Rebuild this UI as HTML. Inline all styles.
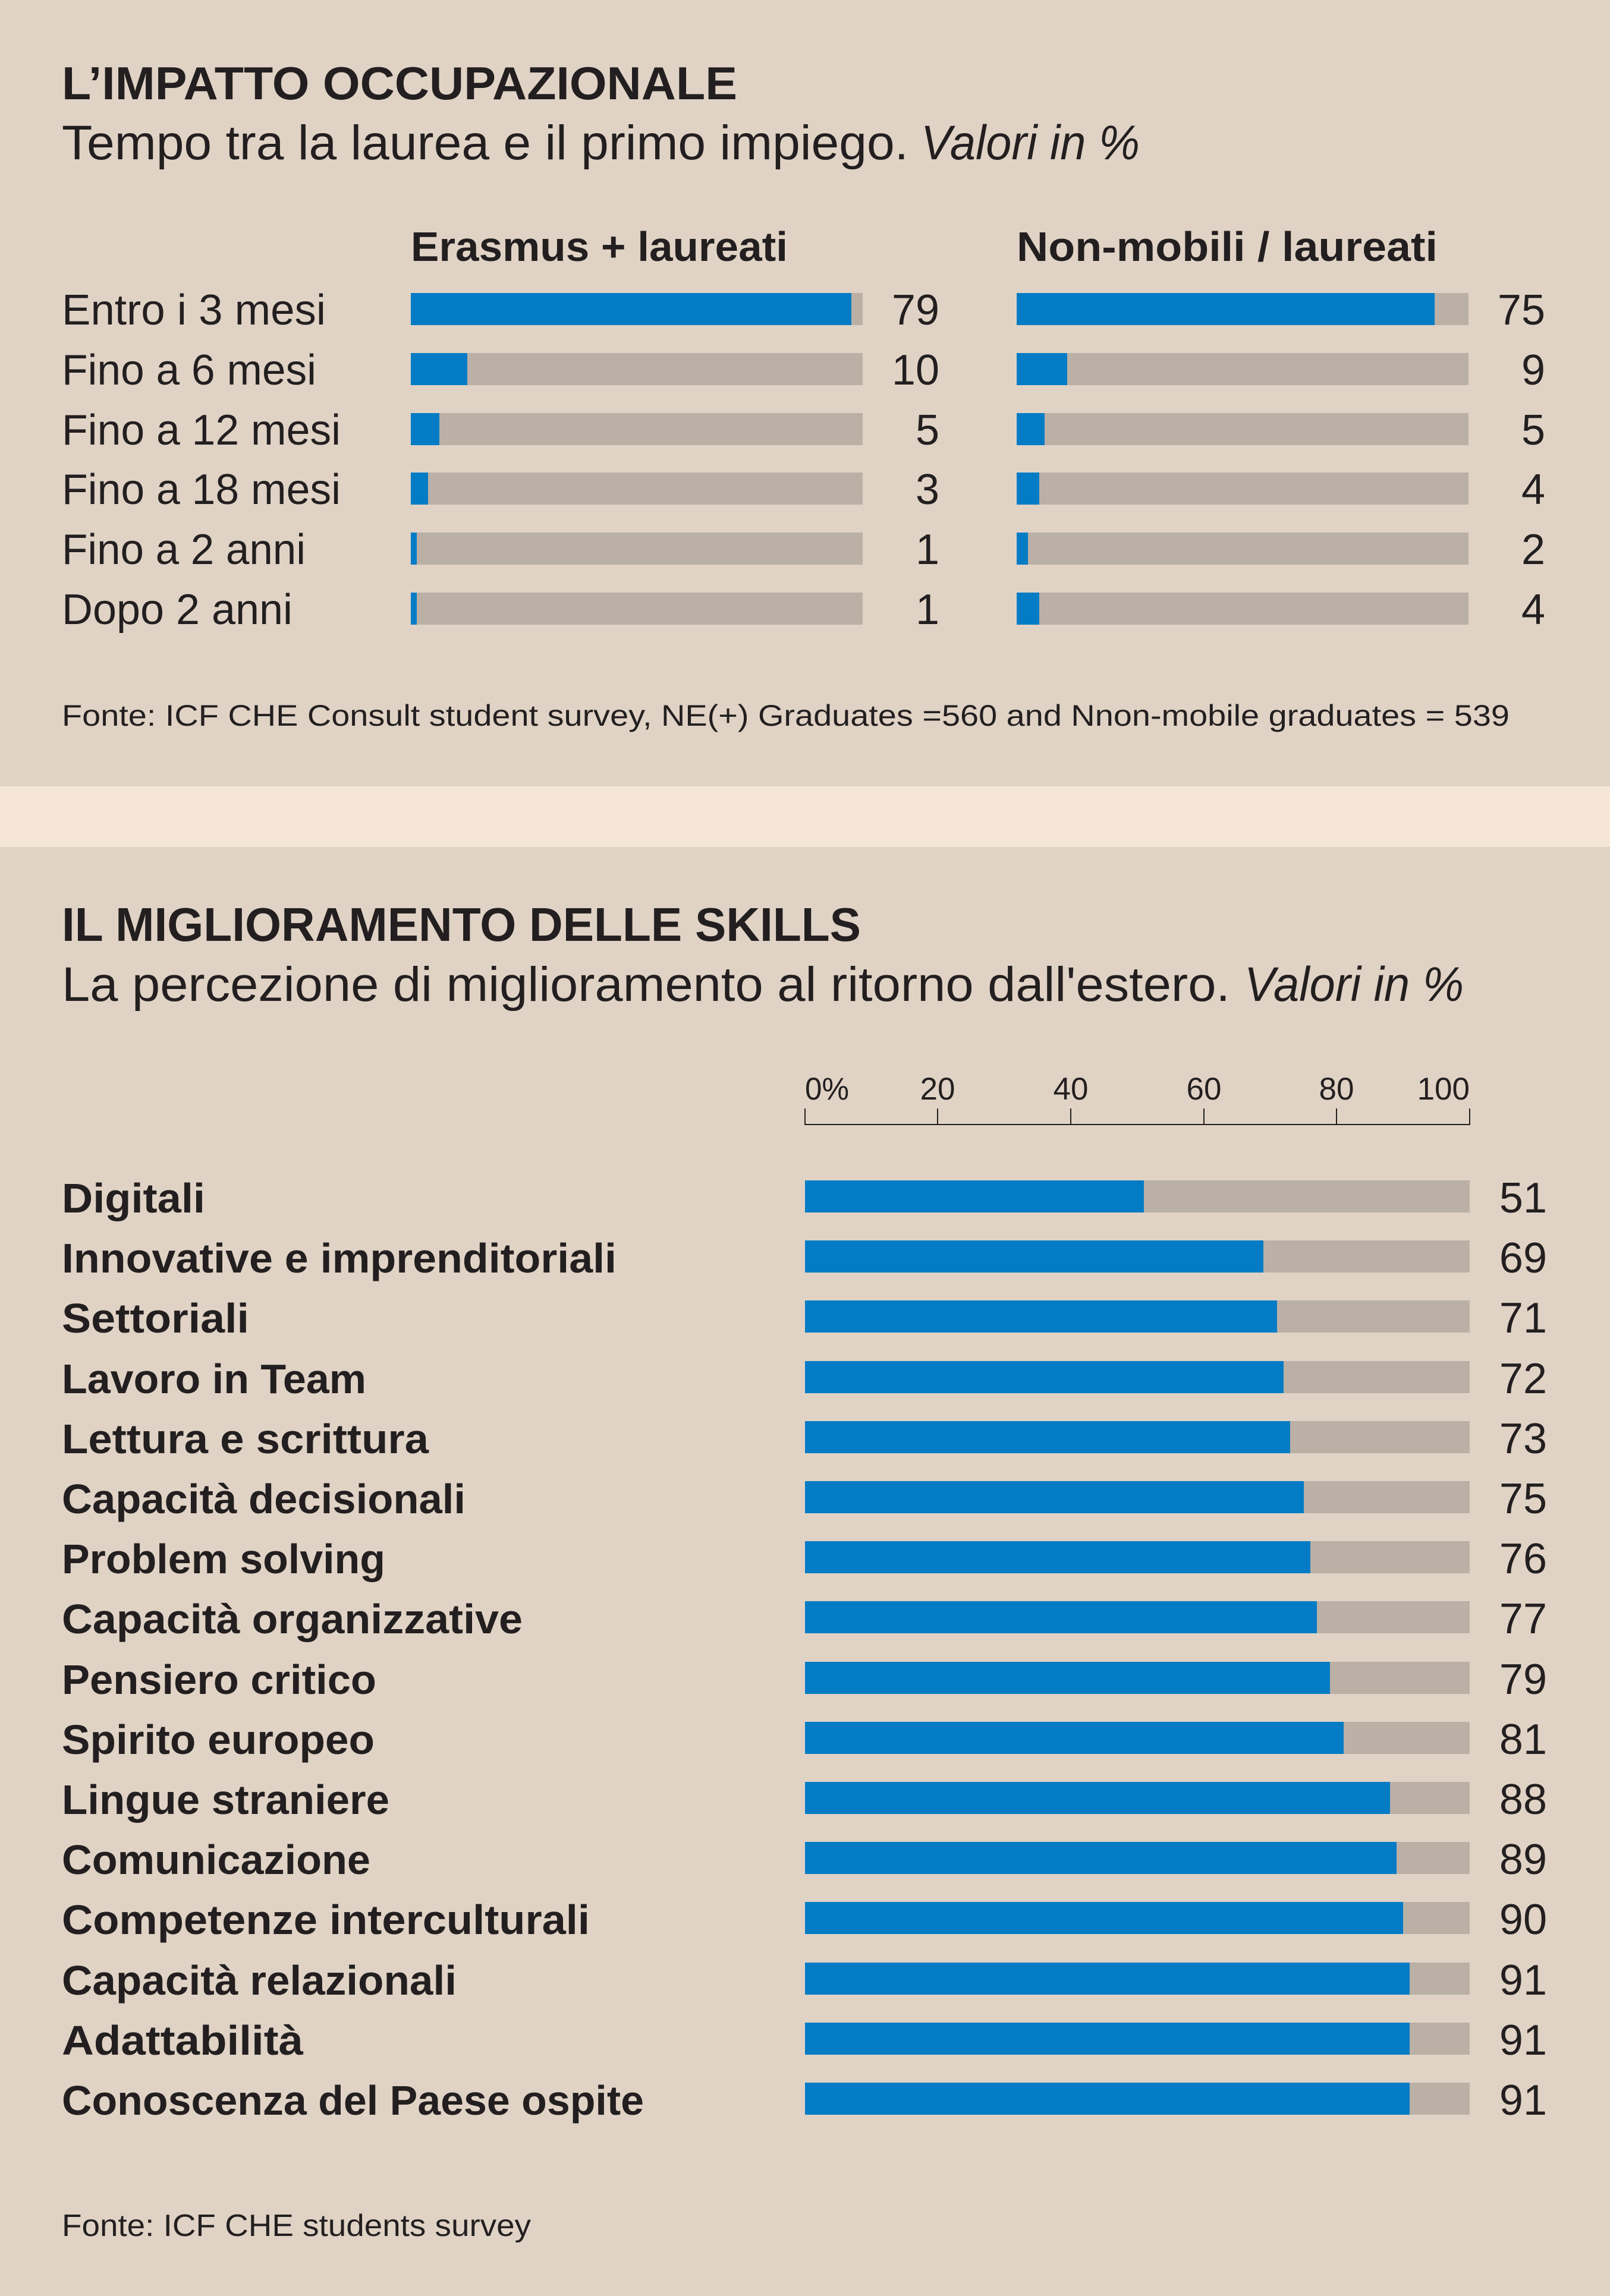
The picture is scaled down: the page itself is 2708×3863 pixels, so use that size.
<!DOCTYPE html>
<html><head><meta charset="utf-8"><style>
html,body{margin:0;padding:0;background:#e0d3c5;}
svg{display:block;}
text{font-family:"Liberation Sans",sans-serif;fill:#231f20;}
.b{font-weight:bold;}
</style></head><body>
<svg width="2708" height="3863" viewBox="0 0 2708 3863" xmlns="http://www.w3.org/2000/svg">
<rect x="0" y="0" width="2708" height="3863" fill="#e0d3c5"/>
<rect x="0" y="1323" width="2708" height="102" fill="#f5e6d8"/>

<text class="b" x="104" y="167" font-size="78" textLength="1136" lengthAdjust="spacingAndGlyphs">L’IMPATTO OCCUPAZIONALE</text>
<text x="104" y="268" font-size="82" textLength="1424" lengthAdjust="spacingAndGlyphs">Tempo tra la laurea e il primo impiego.</text>
<text x="1549" y="268" font-size="82" font-style="italic" textLength="368" lengthAdjust="spacingAndGlyphs">Valori in %</text>

<text class="b" x="691" y="439" font-size="70" textLength="634" lengthAdjust="spacingAndGlyphs">Erasmus + laureati</text>
<text class="b" x="1710" y="439" font-size="70" textLength="708" lengthAdjust="spacingAndGlyphs">Non-mobili / laureati</text>

<g font-size="72">
<text x="104" y="546" textLength="444" lengthAdjust="spacingAndGlyphs">Entro i 3 mesi</text>
<text x="104" y="647" textLength="428" lengthAdjust="spacingAndGlyphs">Fino a 6 mesi</text>
<text x="104" y="748" textLength="469" lengthAdjust="spacingAndGlyphs">Fino a 12 mesi</text>
<text x="104" y="848" textLength="469" lengthAdjust="spacingAndGlyphs">Fino a 18 mesi</text>
<text x="104" y="949" textLength="410" lengthAdjust="spacingAndGlyphs">Fino a 2 anni</text>
<text x="104" y="1050" textLength="388" lengthAdjust="spacingAndGlyphs">Dopo 2 anni</text>
</g>

<g>
<rect x="691" y="493" width="760" height="54" fill="#bab0a6"/><rect x="691" y="493" width="741" height="54" fill="#037cc5"/>
<rect x="691" y="594" width="760" height="54" fill="#bab0a6"/><rect x="691" y="594" width="95" height="54" fill="#037cc5"/>
<rect x="691" y="695" width="760" height="54" fill="#bab0a6"/><rect x="691" y="695" width="48" height="54" fill="#037cc5"/>
<rect x="691" y="795" width="760" height="54" fill="#bab0a6"/><rect x="691" y="795" width="29" height="54" fill="#037cc5"/>
<rect x="691" y="896" width="760" height="54" fill="#bab0a6"/><rect x="691" y="896" width="10" height="54" fill="#037cc5"/>
<rect x="691" y="997" width="760" height="54" fill="#bab0a6"/><rect x="691" y="997" width="10" height="54" fill="#037cc5"/>

<rect x="1710" y="493" width="760" height="54" fill="#bab0a6"/><rect x="1710" y="493" width="703" height="54" fill="#037cc5"/>
<rect x="1710" y="594" width="760" height="54" fill="#bab0a6"/><rect x="1710" y="594" width="85" height="54" fill="#037cc5"/>
<rect x="1710" y="695" width="760" height="54" fill="#bab0a6"/><rect x="1710" y="695" width="47" height="54" fill="#037cc5"/>
<rect x="1710" y="795" width="760" height="54" fill="#bab0a6"/><rect x="1710" y="795" width="38" height="54" fill="#037cc5"/>
<rect x="1710" y="896" width="760" height="54" fill="#bab0a6"/><rect x="1710" y="896" width="19" height="54" fill="#037cc5"/>
<rect x="1710" y="997" width="760" height="54" fill="#bab0a6"/><rect x="1710" y="997" width="38" height="54" fill="#037cc5"/>
</g>

<g font-size="72" text-anchor="end">
<text x="1580" y="546">79</text><text x="1580" y="647">10</text><text x="1580" y="748">5</text>
<text x="1580" y="848">3</text><text x="1580" y="949">1</text><text x="1580" y="1050">1</text>
<text x="2599" y="546">75</text><text x="2599" y="647">9</text><text x="2599" y="748">5</text>
<text x="2599" y="848">4</text><text x="2599" y="949">2</text><text x="2599" y="1050">4</text>
</g>

<text x="104" y="1221" font-size="50" textLength="2435" lengthAdjust="spacingAndGlyphs">Fonte: ICF CHE Consult student survey, NE(+) Graduates =560 and Nnon-mobile graduates = 539</text>

<text class="b" x="104" y="1583" font-size="80" textLength="1344" lengthAdjust="spacingAndGlyphs">IL MIGLIORAMENTO DELLE SKILLS</text>
<text x="104" y="1684" font-size="82" textLength="1965" lengthAdjust="spacingAndGlyphs">La percezione di miglioramento al ritorno dall'estero.</text>
<text x="2093" y="1684" font-size="82" font-style="italic" textLength="369" lengthAdjust="spacingAndGlyphs">Valori in %</text>

<g font-size="53">
<text x="1354" y="1850" textLength="74" lengthAdjust="spacingAndGlyphs">0%</text>
<text x="1577" y="1850" text-anchor="middle">20</text>
<text x="1801" y="1850" text-anchor="middle">40</text>
<text x="2025" y="1850" text-anchor="middle">60</text>
<text x="2248" y="1850" text-anchor="middle">80</text>
<text x="2472" y="1850" text-anchor="end">100</text>
</g>
<g stroke="#231f20" stroke-width="2">
<line x1="1354" y1="1865" x2="1354" y2="1893"/><line x1="1577" y1="1865" x2="1577" y2="1893"/>
<line x1="1801" y1="1865" x2="1801" y2="1893"/><line x1="2025" y1="1865" x2="2025" y2="1893"/>
<line x1="2248" y1="1865" x2="2248" y2="1893"/><line x1="2472" y1="1865" x2="2472" y2="1893"/>
<line x1="1354" y1="1892" x2="2472" y2="1892"/>
</g>

<g id="rows"></g>
<g font-size="70" class="b">
<text class="b" x="104" y="2040" textLength="241" lengthAdjust="spacingAndGlyphs">Digitali</text>
<text class="b" x="104" y="2141" textLength="933" lengthAdjust="spacingAndGlyphs">Innovative e imprenditoriali</text>
<text class="b" x="104" y="2242" textLength="315" lengthAdjust="spacingAndGlyphs">Settoriali</text>
<text class="b" x="104" y="2344" textLength="512" lengthAdjust="spacingAndGlyphs">Lavoro in Team</text>
<text class="b" x="104" y="2445" textLength="617" lengthAdjust="spacingAndGlyphs">Lettura e scrittura</text>
<text class="b" x="104" y="2546" textLength="679" lengthAdjust="spacingAndGlyphs">Capacità decisionali</text>
<text class="b" x="104" y="2647" textLength="544" lengthAdjust="spacingAndGlyphs">Problem solving</text>
<text class="b" x="104" y="2748" textLength="775" lengthAdjust="spacingAndGlyphs">Capacità organizzative</text>
<text class="b" x="104" y="2850" textLength="529" lengthAdjust="spacingAndGlyphs">Pensiero critico</text>
<text class="b" x="104" y="2951" textLength="526" lengthAdjust="spacingAndGlyphs">Spirito europeo</text>
<text class="b" x="104" y="3052" textLength="551" lengthAdjust="spacingAndGlyphs">Lingue straniere</text>
<text class="b" x="104" y="3153" textLength="519" lengthAdjust="spacingAndGlyphs">Comunicazione</text>
<text class="b" x="104" y="3254" textLength="888" lengthAdjust="spacingAndGlyphs">Competenze interculturali</text>
<text class="b" x="104" y="3356" textLength="664" lengthAdjust="spacingAndGlyphs">Capacità relazionali</text>
<text class="b" x="104" y="3457" textLength="406" lengthAdjust="spacingAndGlyphs">Adattabilità</text>
<text class="b" x="104" y="3558" textLength="979" lengthAdjust="spacingAndGlyphs">Conoscenza del Paese ospite</text>
</g>

<g>
<rect x="1354" y="1986" width="1118" height="54" fill="#bab0a6"/><rect x="1354" y="1986" width="570" height="54" fill="#037cc5"/>
<rect x="1354" y="2087" width="1118" height="54" fill="#bab0a6"/><rect x="1354" y="2087" width="771" height="54" fill="#037cc5"/>
<rect x="1354" y="2188" width="1118" height="54" fill="#bab0a6"/><rect x="1354" y="2188" width="794" height="54" fill="#037cc5"/>
<rect x="1354" y="2290" width="1118" height="54" fill="#bab0a6"/><rect x="1354" y="2290" width="805" height="54" fill="#037cc5"/>
<rect x="1354" y="2391" width="1118" height="54" fill="#bab0a6"/><rect x="1354" y="2391" width="816" height="54" fill="#037cc5"/>
<rect x="1354" y="2492" width="1118" height="54" fill="#bab0a6"/><rect x="1354" y="2492" width="839" height="54" fill="#037cc5"/>
<rect x="1354" y="2593" width="1118" height="54" fill="#bab0a6"/><rect x="1354" y="2593" width="850" height="54" fill="#037cc5"/>
<rect x="1354" y="2694" width="1118" height="54" fill="#bab0a6"/><rect x="1354" y="2694" width="861" height="54" fill="#037cc5"/>
<rect x="1354" y="2796" width="1118" height="54" fill="#bab0a6"/><rect x="1354" y="2796" width="883" height="54" fill="#037cc5"/>
<rect x="1354" y="2897" width="1118" height="54" fill="#bab0a6"/><rect x="1354" y="2897" width="906" height="54" fill="#037cc5"/>
<rect x="1354" y="2998" width="1118" height="54" fill="#bab0a6"/><rect x="1354" y="2998" width="984" height="54" fill="#037cc5"/>
<rect x="1354" y="3099" width="1118" height="54" fill="#bab0a6"/><rect x="1354" y="3099" width="995" height="54" fill="#037cc5"/>
<rect x="1354" y="3200" width="1118" height="54" fill="#bab0a6"/><rect x="1354" y="3200" width="1006" height="54" fill="#037cc5"/>
<rect x="1354" y="3302" width="1118" height="54" fill="#bab0a6"/><rect x="1354" y="3302" width="1017" height="54" fill="#037cc5"/>
<rect x="1354" y="3403" width="1118" height="54" fill="#bab0a6"/><rect x="1354" y="3403" width="1017" height="54" fill="#037cc5"/>
<rect x="1354" y="3504" width="1118" height="54" fill="#bab0a6"/><rect x="1354" y="3504" width="1017" height="54" fill="#037cc5"/>
</g>

<g font-size="72" text-anchor="end">
<text x="2602" y="2040">51</text><text x="2602" y="2141">69</text><text x="2602" y="2242">71</text>
<text x="2602" y="2344">72</text><text x="2602" y="2445">73</text><text x="2602" y="2546">75</text>
<text x="2602" y="2647">76</text><text x="2602" y="2748">77</text><text x="2602" y="2850">79</text>
<text x="2602" y="2951">81</text><text x="2602" y="3052">88</text><text x="2602" y="3153">89</text>
<text x="2602" y="3254">90</text><text x="2602" y="3356">91</text><text x="2602" y="3457">91</text>
<text x="2602" y="3558">91</text>
</g>

<text x="104" y="3762" font-size="52" textLength="789" lengthAdjust="spacingAndGlyphs">Fonte: ICF CHE students survey</text>
</svg>
</body></html>
